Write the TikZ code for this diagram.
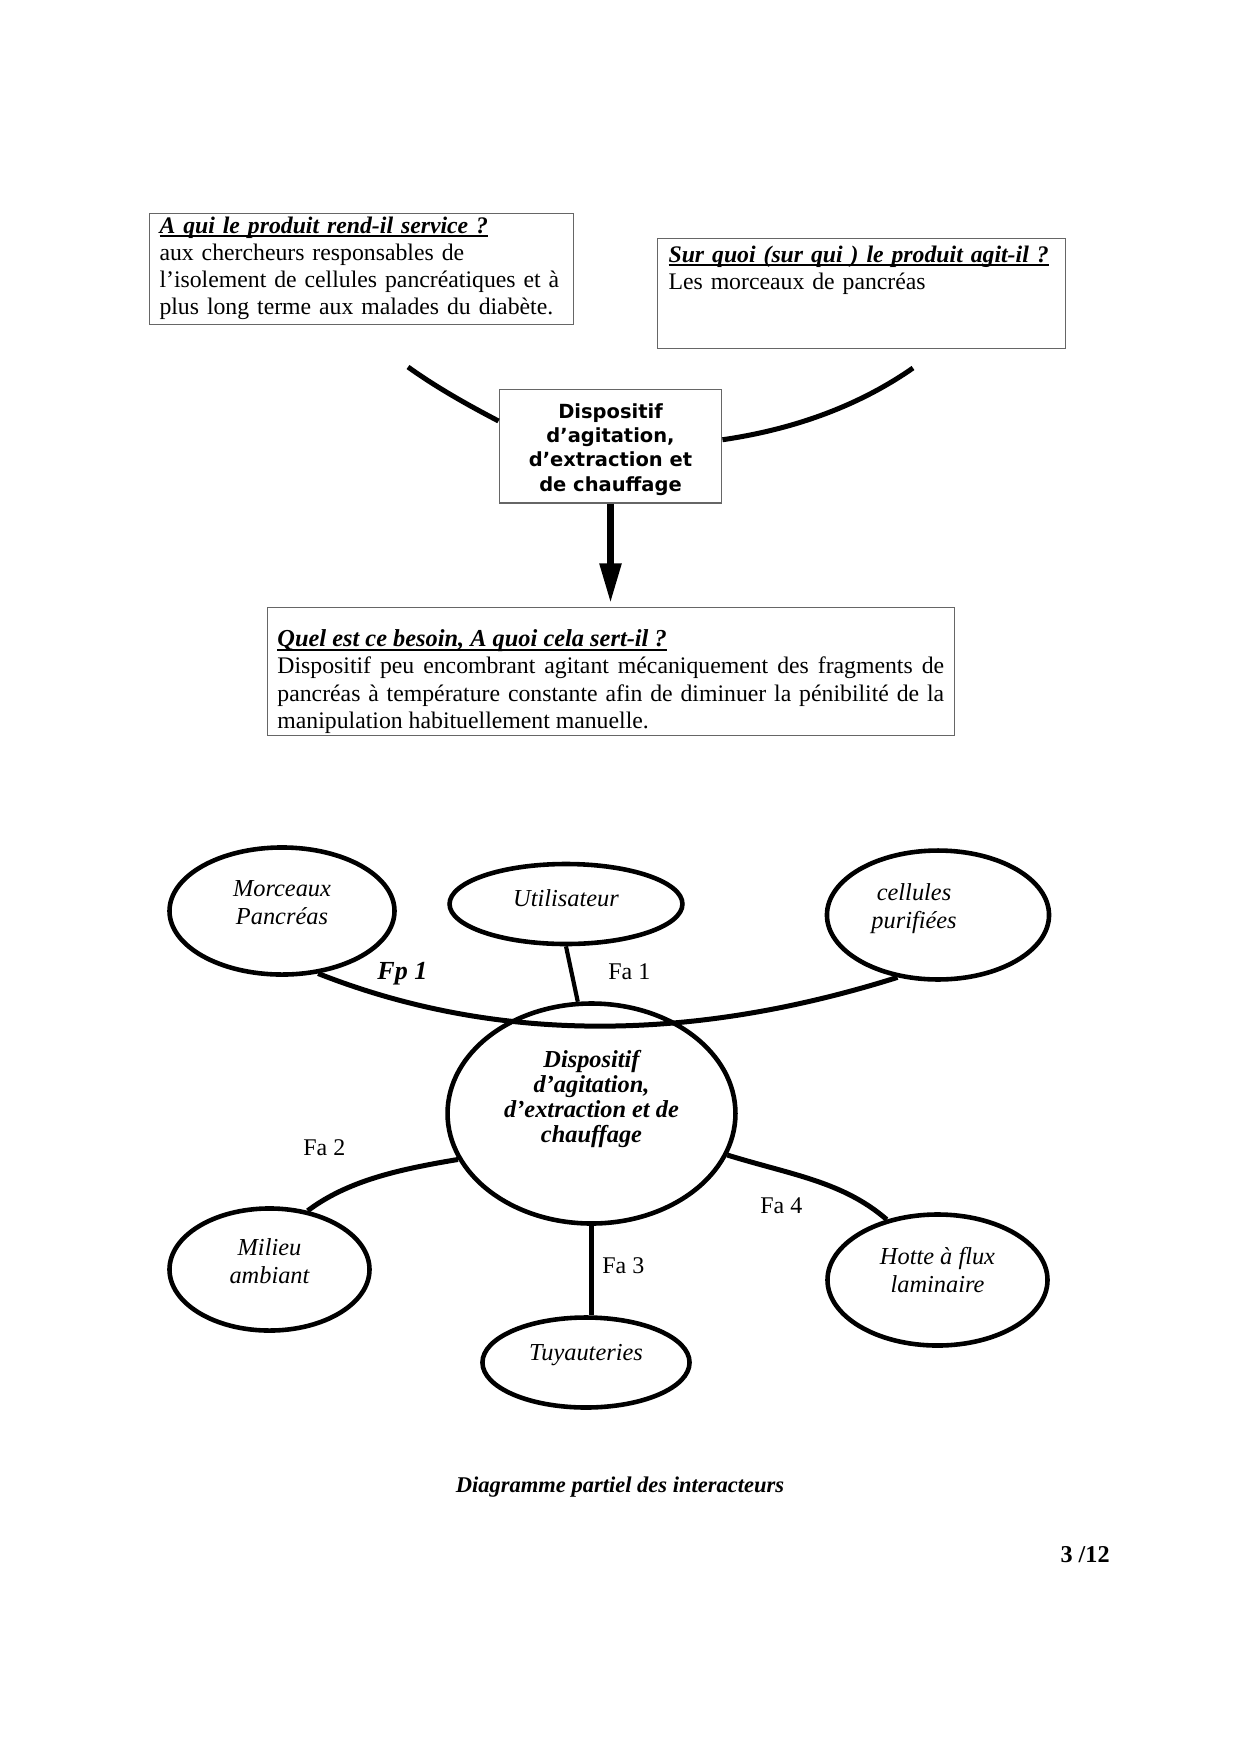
\documentclass[tikz,border=0pt]{standalone}
\usepackage{fontspec}
\setmainfont{Liberation Serif}
\newfontfamily\boxfont{DejaVu Sans}
\usetikzlibrary{arrows.meta,shapes.geometric}
\newcommand{\corps}{\fontsize{11.4}{13}\selectfont}
\newcommand{\souligne}[1]{\setbox0=\hbox{\bfseries\itshape #1}%
\rlap{\rule[-1.9pt]{\wd0}{0.8pt}}\box0}

\begin{document}
\begin{tikzpicture}[x=0.48pt,y=-0.48pt]
\tikzstyle{question} = [rectangle, draw=black!60, line width=0.5pt, anchor=north west,
align=left, font=\corps]
\tikzstyle{produit} = [rectangle, draw=black!60, line width=0.5pt, minimum width=107pt,
minimum height=54.7pt, align=center, font=\boxfont\bfseries\fontsize{9.35}{11.7}\selectfont]
\tikzstyle{interacteur} = [ellipse, draw, line width=2.2pt, inner sep=0pt]
\tikzstyle{nom} = [align=center, font=\itshape\fontsize{11.7}{13.4}\selectfont]
\tikzstyle{branche} = [draw, line width=2.4pt]
\tikzstyle{fonction} = [anchor=base west, inner sep=0pt, font=\fontsize{11.5}{13}\selectfont]
\tikzstyle{line} = [draw, line width=3pt, -{Triangle[length=19pt,width=10pt]}, shorten >=2pt]

\useasboundingbox[fill=white] (0,0) rectangle (1240,1754);

% bete a cornes
\node[question, text width=194pt, inner xsep=4.8pt, inner ysep=1.5pt] (service) at (149,213)
{\souligne{A qui le produit rend-il service ?}\\
aux chercheurs responsables de\\
l’isolement de cellules pancréatiques et à\\
plus long terme aux malades du diabète.\rule[-3.5pt]{0pt}{3.5pt}};
\node[question, text width=185.3pt, inner xsep=5.3pt, inner ysep=3.4pt] (cible) at (657,238)
{\souligne{Sur quoi (sur qui ) le produit agit-il ?}\\
Les morceaux de pancréas\rule[-25pt]{0pt}{25pt}};
\node[produit] (produit) at (610.5,446)
{\rule{0pt}{10.4pt}Dispositif\\ d’agitation,\\ d’extraction et\\ de chauffage};
\node[question, text width=320pt, inner xsep=5pt, inner ysep=1.2pt, align=justify] (besoin) at (266.5,607)
{\rule{0pt}{17.7pt}\souligne{\fontsize{11.7}{13}\selectfont Quel est ce besoin, A quoi cela sert-il ?}\\
Dispositif peu encombrant agitant mécaniquement des fragments de\linebreak
pancréas à température constante afin de diminuer la pénibilité de la\linebreak
manipulation habituellement manuelle.};

\coordinate (g) at (408,367);
\coordinate (d) at (913,368);
\path[branche] (g) .. controls (436,387) and (466,404) .. ([yshift=12pt]produit.west);
\path[branche] (d) .. controls (860,405) and (796,429) .. ([yshift=3pt]produit.east);
\path[line] (produit.south) -- (produit.south |- besoin.north);

% interacteurs
\node[interacteur, minimum width=108pt, minimum height=61pt] (morceaux) at (282,911) {};
\node[interacteur, minimum width=111.8pt, minimum height=38.4pt] (util) at (566,904) {};
\node[interacteur, minimum width=106.6pt, minimum height=61.9pt] (cellules) at (938,915) {};
\node[interacteur, minimum width=138.2pt, minimum height=105.6pt] (dispo) at (591.5,1113.5) {};
\node[interacteur, minimum width=96pt, minimum height=58.6pt] (milieu) at (269.5,1269.5) {};
\node[interacteur, minimum width=99.4pt, minimum height=43.2pt] (tuyau) at (586,1362.5) {};
\node[interacteur, minimum width=105.6pt, minimum height=62.9pt] (hotte) at (937.5,1280) {};

\node[nom] (morceaux-t) at ([yshift=3.8pt]morceaux) {Morceaux\\ Pancréas};
\node[nom] (util-t) at ([yshift=2.9pt]util) {Utilisateur};
\node[nom] (cellules-t) at ([xshift=-11.5pt,yshift=2.9pt]cellules) {cellules\\ purifiées};
\node[nom, font=\bfseries\itshape\fontsize{11.7}{12}\selectfont] (dispo-t) at ([yshift=7pt]dispo)
{Dispositif\\ d’agitation,\\ d’extraction et de\\ chauffage};
\node[nom] (milieu-t) at ([yshift=3.8pt]milieu) {Milieu\\ ambiant};
\node[nom] (tuyau-t) at ([yshift=3.4pt]tuyau) {Tuyauteries};
\node[nom] (hotte-t) at ([yshift=4.8pt]hotte) {Hotte à flux\\ laminaire};

% fonctions
\path[branche] (morceaux.-60) .. controls (492,1042) and (686,1044) .. (cellules.-123);
\path[branche, line width=2pt] (util.south) -- (dispo.97);
\path[branche] (dispo.199) .. controls +(-60,10) and +(40,-30) .. (milieu.57);
\path[branche] (dispo.south) -- (dispo.south |- tuyau.north);
\path[branche] (dispo.-17) .. controls +(65,20) and +(-44,-38) .. (hotte.130);

\node[fonction, font=\bfseries\itshape\fontsize{12.5}{14}\selectfont] (fp1) at (377,979) {Fp 1};
\node[fonction] (fa1) at (608,979) {Fa 1};
\node[fonction] (fa2) at (303,1155) {Fa 2};
\node[fonction] (fa3) at (602,1273) {Fa 3};
\node[fonction] (fa4) at (760,1213) {Fa 4};

\node[anchor=base, inner sep=0pt, font=\bfseries\itshape\fontsize{10.8}{13}\selectfont] (titre)
at (620,1492) {Diagramme partiel des interacteurs};
\node[anchor=base east, inner sep=0pt, font=\bfseries\fontsize{11.6}{13}\selectfont] (page)
at (1110,1562) {3 /12};

\end{tikzpicture}
\end{document}
